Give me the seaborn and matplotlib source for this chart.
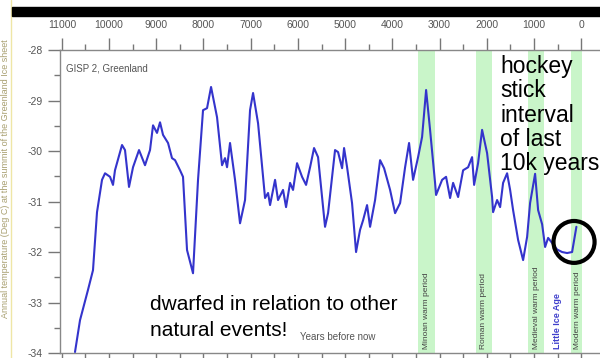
'''GISP 2 Greenland temperature, last 11k years'''
import matplotlib
matplotlib.use('Agg')
import matplotlib.pyplot as plt
import matplotlib.ticker as ticker
from matplotlib.patches import Ellipse, Rectangle
from matplotlib.lines import Line2D
import seaborn as sns
import pandas

#region data
years = [10722, 10616, 10447, 10341, 10256, 10150, 10086, 9980, 9917, 9875,
         9726, 9663, 9578, 9493, 9366, 9239, 9133, 9069, 8985, 8921,
         8857, 8751, 8667, 8603, 8497, 8434, 8349, 8222, 8116, 8010,
         7925, 7840, 7713, 7607, 7544, 7501, 7438, 7332, 7226, 7120,
         7014, 6950, 6844, 6696, 6632, 6590, 6484, 6421, 6315, 6251,
         6166, 6103, 6018, 5912, 5827, 5742, 5658, 5573, 5425, 5361,
         5213, 5149, 5064, 5022, 4958, 4853, 4768, 4683, 4619, 4535,
         4471, 4365, 4259, 4174, 4047, 3941, 3835, 3729, 3645, 3560,
         3454, 3369, 3284, 3200, 3094, 3073, 2945, 2861, 2776, 2712,
         2606, 2500, 2394, 2310, 2267, 2183, 2098, 1992, 1886, 1865,
         1780, 1716, 1653, 1568, 1504, 1441, 1335, 1229, 1144, 1081,
         975, 911, 826, 763, 699, 615, 509, 403, 297, 191, 100]
temps = [-33.98, -33.35, -32.75, -32.36, -31.21, -30.57, -30.44, -30.51, -30.67, -30.38,
         -29.88, -29.98, -30.71, -30.32, -29.98, -30.28, -29.98, -29.49, -29.64, -29.43,
         -29.68, -29.84, -30.14, -30.18, -30.38, -30.51, -31.96, -32.42, -30.57, -29.19,
         -29.15, -28.73, -29.33, -30.28, -30.14, -30.32, -29.84, -30.57, -31.43, -30.97,
         -29.19, -28.85, -29.45, -30.93, -30.83, -31.07, -30.57, -30.97, -30.77, -31.11,
         -30.63, -30.77, -30.24, -30.51, -30.67, -30.32, -29.94, -30.12, -31.50, -31.23,
         -29.98, -30.02, -30.34, -29.94, -30.32, -31.03, -32.00, -31.56, -31.37, -31.07,
         -31.50, -30.97, -30.18, -30.34, -30.77, -31.23, -31.03, -30.32, -29.84, -30.57,
         -30.12, -29.72, -28.79, -29.58, -30.63, -30.87, -30.57, -30.51, -30.93, -30.63,
         -30.91, -30.38, -30.32, -30.12, -30.67, -30.24, -29.58, -30.04, -30.91, -31.21,
         -30.97, -31.11, -30.63, -30.44, -30.77, -31.17, -31.76, -32.16, -31.70, -31.03,
         -30.45, -31.17, -31.45, -31.90, -31.72, -31.82, -31.95, -32.00, -32.02, -32.00, -31.50]

periods = ['Minoan warm period', 'Roman warm period', 'Medieval warm period', 'Modern warm period']
period_start = [3450, 2220, 1120, 210]
period_end = [3090, 1880, 780, -20]
period_label_x = [3270, 2060, 950, 80]
lia_label = 'Little Ice Age'
lia_x = 490
#endregion

df = pandas.DataFrame({'year': years, 'temp': temps})

sns.set_style('white')
plt.rcParams['font.family'] = ['Liberation Sans', 'DejaVu Sans']

fig = plt.figure(figsize=(6, 3.58), dpi=100)
ax = fig.add_axes([0.1, 0.014, 0.9, 0.846])

#region bands
for s, e in zip(period_start, period_end):
    ax.axvspan(e, s, color='#c9f5c9', lw=0, zorder=0)
#endregion

sns.lineplot(data=df, x='year', y='temp', ax=ax, color='#3434cc', lw=1.5, zorder=3)

#region Axis
ax.set_xlim(11040, -400)
ax.set_ylim(-34, -28)
ax.xaxis.set_major_locator(ticker.MultipleLocator(1000))
ax.xaxis.set_minor_locator(ticker.MultipleLocator(500))
ax.yaxis.set_major_locator(ticker.MultipleLocator(1))
ax.yaxis.set_minor_locator(ticker.MultipleLocator(0.5))
ax.xaxis.set_major_formatter(ticker.FuncFormatter(lambda x, p: format(int(x), 'd')))
ax.yaxis.set_major_formatter(ticker.FuncFormatter(lambda x, p: format(int(round(x)), 'd')))
ax.tick_params(axis='x', which='both', top=True, bottom=True, labeltop=True, labelbottom=False,
               direction='out', colors='#777777', labelcolor='#555555', labelsize=7.5, pad=6)
ax.tick_params(axis='y', which='both', left=True, direction='out', colors='#777777',
               labelcolor='#555555', labelsize=7.5, pad=4)
ax.tick_params(which='major', length=8.5, width=1)
ax.tick_params(which='minor', length=4, width=1)
for side in ['top', 'left', 'bottom']:
    ax.spines[side].set_color('#888888')
    ax.spines[side].set_linewidth(1)
ax.spines['right'].set_visible(False)
ax.set_xlabel('')
ax.set_ylabel('')
#endregion

#region text
ax.text(0.012, 0.955, 'GISP 2, Greenland', transform=ax.transAxes, fontsize=7,
        color='#555555', va='top', ha='left')
ax.text(0.515, 0.035, 'Years before now', transform=ax.transAxes, fontsize=7,
        color='#555555', ha='center', va='bottom')
ax.text(0.815, 0.985, 'hockey\nstick\ninterval\nof last\n10k years', transform=ax.transAxes,
        fontsize=16.5, color='black', va='top', ha='left', linespacing=1.08, zorder=5)
# two lines as separate texts so the short second line keeps its own box
ax.text(0.167, 0.19, 'dwarfed in relation to other', transform=ax.transAxes,
        fontsize=15, color='black', va='top', ha='left', zorder=5)
ax.text(0.167, 0.107, 'natural events!', transform=ax.transAxes,
        fontsize=15, color='black', va='top', ha='left', zorder=5)

for lbl, xp in zip(periods, period_label_x):
    ax.text(xp, -33.92, lbl, rotation=90, fontsize=6, color='#444444',
            ha='center', va='bottom')
ax.text(lia_x, -33.92, lia_label, rotation=90, fontsize=6.5, color='#4040cc',
        ha='center', va='bottom', fontweight='bold')

ax.add_patch(Ellipse((150, -31.8), 870, 0.83, fill=False, ec='black', lw=3, zorder=6))
#endregion

#region page decorations
fig.patches.append(Rectangle((0.02, 0.955), 0.98, 0.026, transform=fig.transFigure,
                             color='black', zorder=10))
fig.lines.append(Line2D([0.018, 0.018], [0, 1], transform=fig.transFigure,
                        color='#efe6a6', lw=1))
fig.text(0.009, 0.89, 'Annual temperature (Deg C) at the summit of the Greenland Ice sheet',
         rotation=90, fontsize=6.5, color='#a89f70', ha='center', va='top')
#endregion

fig.savefig('out.png', dpi=100)
